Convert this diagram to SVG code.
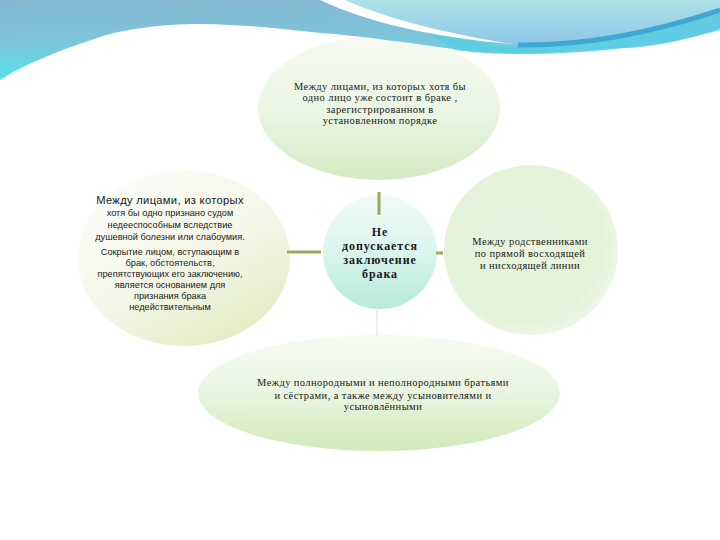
<svg xmlns="http://www.w3.org/2000/svg" width="720" height="540" viewBox="0 0 720 540">
<defs>
<linearGradient id="bgL" x1="0" y1="0" x2="0.15" y2="1">
<stop offset="0" stop-color="#84b6d2"/><stop offset="0.5" stop-color="#7ec4da"/><stop offset="1" stop-color="#55e2ee"/>
</linearGradient>
<linearGradient id="bgR" x1="0" y1="0" x2="0" y2="1">
<stop offset="0" stop-color="#ace2e6"/><stop offset="1" stop-color="#8ec6e8"/>
</linearGradient>
<linearGradient id="gTop" x1="0" y1="0" x2="0" y2="1">
<stop offset="0" stop-color="#f6faf1"/><stop offset="0.5" stop-color="#ecf6e4"/><stop offset="1" stop-color="#d3ebc4"/>
</linearGradient>
<linearGradient id="gLeft" x1="0.2" y1="0.1" x2="0.8" y2="1">
<stop offset="0" stop-color="#fbfcf8"/><stop offset="0.55" stop-color="#f3f6e4"/><stop offset="1" stop-color="#e0ebbf"/>
</linearGradient>
<linearGradient id="gCirc" x1="0" y1="0" x2="0" y2="1">
<stop offset="0" stop-color="#f2fbf8"/><stop offset="0.5" stop-color="#daf5ec"/><stop offset="1" stop-color="#b5eadb"/>
</linearGradient>
<radialGradient id="gRight" cx="0.45" cy="0.45" r="0.6">
<stop offset="0" stop-color="#e9f5df"/><stop offset="0.75" stop-color="#e4f2d8"/><stop offset="1" stop-color="#f0f8ea"/>
</radialGradient>
<linearGradient id="gBot" x1="0" y1="0" x2="0" y2="1">
<stop offset="0" stop-color="#f7fbf3"/><stop offset="0.5" stop-color="#e9f5df"/><stop offset="1" stop-color="#d0eaba"/>
</linearGradient>
<style>
.t{font-family:"Liberation Serif",serif;font-size:10.5px;letter-spacing:0.4px;fill:#1a1a1a;text-anchor:middle}
.s{font-family:"Liberation Sans",sans-serif;font-size:9.2px;fill:#1a1a1a;text-anchor:middle}
.b{font-family:"Liberation Serif",serif;font-size:12px;font-weight:bold;letter-spacing:0.9px;fill:#1a1a1a;text-anchor:middle}
.c{stroke:#9ea75a;stroke-width:3;fill:none}
</style>
</defs>
<rect width="720" height="540" fill="#ffffff"/>
<g id="node-top">
<ellipse cx="379" cy="108" rx="121" ry="72" fill="url(#gTop)"/>
<text class="t" x="380" y="90">Между лицами, из которых хотя бы</text>
<text class="t" x="380" y="101">одно лицо уже состоит в браке ,</text>
<text class="t" x="380" y="113">зарегистрированном в</text>
<text class="t" x="380" y="124">установленном порядке</text>
</g>
<g id="background">
<path d="M0,0 H720 V28 C690,40 650,48 620,48 C580,50 550,54 520,53 C500,53 480,52 459,50 C420,44 360,36 321,33 C300,31 260,25 200,24 C160,24 120,30 100,37 C60,50 25,64 0,80 Z" fill="url(#bgL)"/>
<path d="M330,0 H720 V12 C660,30 590,44 520,45 C450,38 390,22 330,0 Z" fill="url(#bgR)"/>
<path d="M420,28 C460,40 490,46 520,47 C590,46 660,30 720,14 V30 C660,46 590,54 520,54 C490,54 470,52 455,50 Z" fill="#5ccde2" opacity="0.85"/>
<path d="M320,0 C370,24 440,38 512,44 C450,34 390,20 345,0 Z" fill="#ffffff"/>
<path d="M518,45 C590,46 660,30 720,10" stroke="#3ea8d2" stroke-width="5" fill="none"/>
</g>
<g id="node-right">
<ellipse cx="531" cy="250" rx="87" ry="85" fill="url(#gRight)"/>
<text class="t" x="530" y="245">Между родственниками</text>
<text class="t" x="530" y="257">по прямой восходящей</text>
<text class="t" x="530" y="269">и нисходящей линии</text>
</g>
<g id="node-left">
<ellipse cx="184" cy="258" rx="106" ry="88" fill="url(#gLeft)"/>
<text class="s" x="170" y="204" style="font-size:11.2px;letter-spacing:0.3px">Между лицами, из которых</text>
<text class="s" x="170" y="216">хотя бы одно признано судом</text>
<text class="s" x="170" y="228">недееспособным вследствие</text>
<text class="s" x="170" y="240">душевной болезни или слабоумия.</text>
<text class="s" x="170" y="255">Сокрытие лицом, вступающим в</text>
<text class="s" x="170" y="266">брак, обстоятельств,</text>
<text class="s" x="170" y="277">препятствующих его заключению,</text>
<text class="s" x="170" y="288">является основанием для</text>
<text class="s" x="170" y="299">признания брака</text>
<text class="s" x="170" y="310">недействительным</text>
</g>
<g id="node-bottom">
<ellipse cx="379" cy="393" rx="181" ry="58" fill="url(#gBot)"/>
<text class="t" x="383" y="386">Между полнородными и неполнородными братьями</text>
<text class="t" x="383" y="399">и сёстрами, а также между усыновителями и</text>
<text class="t" x="383" y="410">усыновлёнными</text>
</g>
<g id="node-center">
<circle cx="380" cy="252" r="57" fill="url(#gCirc)"/>
<text class="b" x="380" y="236">Не</text>
<text class="b" x="380" y="250">допускается</text>
<text class="b" x="380" y="264">заключение</text>
<text class="b" x="380" y="278">брака</text>
</g>
<g id="connectors">
<line class="c" x1="379" y1="192" x2="379" y2="215"/>
<line class="c" x1="287" y1="252" x2="321" y2="252"/>
<line class="c" x1="436" y1="253" x2="443" y2="253"/>
<line x1="377" y1="310" x2="377" y2="337" stroke="#eef2e6" stroke-width="2"/>
</g>
</svg>
